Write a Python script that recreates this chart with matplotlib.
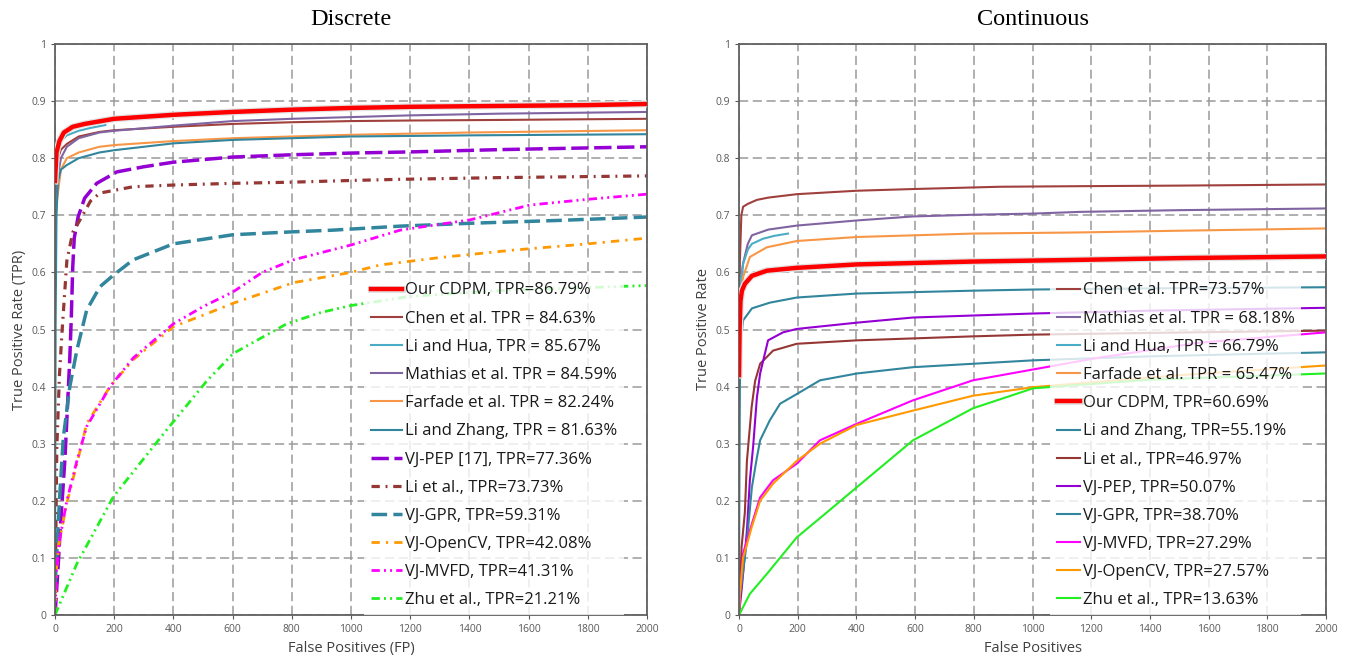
import matplotlib
matplotlib.use('Agg')
import matplotlib.pyplot as plt
import matplotlib.patheffects as pe

# ---- Discrete (left) ----
d_cdpm_x = [0, 5, 15, 30, 60, 100, 200, 400, 600, 800, 1000, 1200, 1400, 1600, 1800, 2000]
d_cdpm_y = [0.76, 0.81, 0.83, 0.845, 0.855, 0.86, 0.869, 0.876, 0.881, 0.885, 0.888, 0.89, 0.891, 0.892, 0.893, 0.895]
d_chen_x = [0, 10, 20, 40, 80, 150, 200, 400, 600, 800, 1000, 1200, 1500, 2000]
d_chen_y = [0.70, 0.80, 0.815, 0.825, 0.838, 0.846, 0.849, 0.855, 0.86, 0.863, 0.865, 0.866, 0.867, 0.869]
d_lihua_x = [0, 5, 10, 20, 40, 80, 120, 170]
d_lihua_y = [0.60, 0.79, 0.815, 0.83, 0.84, 0.848, 0.853, 0.858]
d_mathias_x = [0, 10, 20, 40, 80, 150, 200, 400, 600, 800, 1000, 1200, 1500, 2000]
d_mathias_y = [0.68, 0.77, 0.80, 0.82, 0.835, 0.845, 0.848, 0.857, 0.865, 0.869, 0.872, 0.875, 0.878, 0.881]
d_farfade_x = [0, 5, 10, 20, 40, 80, 150, 200, 400, 600, 800, 1000, 1400, 2000]
d_farfade_y = [0.65, 0.72, 0.74, 0.78, 0.80, 0.81, 0.82, 0.823, 0.83, 0.835, 0.838, 0.841, 0.845, 0.849]
d_lizhang_x = [0, 2, 5, 10, 20, 40, 80, 150, 200, 400, 600, 800, 1000, 1400, 2000]
d_lizhang_y = [0.07, 0.50, 0.70, 0.76, 0.78, 0.788, 0.80, 0.81, 0.814, 0.826, 0.832, 0.835, 0.838, 0.84, 0.842]
d_pep_x = [0, 10, 17, 34, 50, 55, 60, 65, 78, 100, 141, 209, 300, 400, 600, 800, 1000, 1200, 1500, 2000]
d_pep_y = [0.0, 0.08, 0.144, 0.277, 0.45, 0.52, 0.61, 0.66, 0.697, 0.73, 0.756, 0.776, 0.785, 0.793, 0.802, 0.806, 0.809, 0.811, 0.815, 0.82]
d_liet_x = [0, 3, 6, 15, 23, 40, 60, 90, 120, 152, 264, 400, 602, 800, 1000, 1166, 1500, 2000]
d_liet_y = [0.0, 0.15, 0.29, 0.42, 0.49, 0.62, 0.67, 0.697, 0.725, 0.739, 0.75, 0.753, 0.756, 0.758, 0.761, 0.763, 0.766, 0.769]
d_gpr_x = [0, 6, 15, 28, 50, 74, 107, 152, 197, 264, 400, 602, 800, 939, 1166, 1400, 1700, 2000]
d_gpr_y = [0.05, 0.11, 0.20, 0.31, 0.40, 0.464, 0.534, 0.575, 0.595, 0.622, 0.65, 0.666, 0.671, 0.674, 0.681, 0.686, 0.691, 0.697]
d_opencv_x = [0, 5, 15, 40, 74, 107, 186, 264, 400, 500, 602, 805, 1000, 1098, 1300, 1547, 1800, 2000]
d_opencv_y = [0.0, 0.08, 0.13, 0.196, 0.265, 0.335, 0.40, 0.447, 0.505, 0.525, 0.546, 0.582, 0.60, 0.613, 0.626, 0.639, 0.65, 0.66]
d_mvfd_x = [0, 5, 15, 40, 74, 107, 186, 264, 400, 500, 602, 700, 805, 1000, 1166, 1402, 1605, 1800, 2000]
d_mvfd_y = [0.0, 0.08, 0.13, 0.20, 0.27, 0.33, 0.40, 0.45, 0.51, 0.54, 0.566, 0.60, 0.622, 0.648, 0.674, 0.692, 0.718, 0.728, 0.737]
d_zhu_x = [0, 74, 197, 377, 513, 602, 783, 900, 1000, 1200, 1500, 2000]
d_zhu_y = [0.0, 0.09, 0.207, 0.324, 0.41, 0.458, 0.51, 0.53, 0.542, 0.558, 0.568, 0.577]

d_labels = ['Our CDPM, TPR=86.79%', 'Chen et al. TPR = 84.63%', 'Li and Hua, TPR = 85.67%',
            'Mathias et al. TPR = 84.59%', 'Farfade et al. TPR = 82.24%', 'Li and Zhang, TPR = 81.63%',
            'VJ-PEP [17], TPR=77.36%', 'Li et al., TPR=73.73%', 'VJ-GPR, TPR=59.31%',
            'VJ-OpenCV, TPR=42.08%', 'VJ-MVFD, TPR=41.31%', 'Zhu et al., TPR=21.21%']

# ---- Continuous (right) ----
c_chen_x = [0, 3, 8, 14, 30, 61, 100, 197, 400, 593, 889, 1162, 1500, 2000]
c_chen_y = [0.45, 0.62, 0.70, 0.715, 0.72, 0.727, 0.731, 0.737, 0.743, 0.746, 0.75, 0.751, 0.752, 0.754]
c_mathias_x = [0, 5, 14, 30, 44, 100, 197, 402, 593, 800, 1002, 1162, 1500, 2000]
c_mathias_y = [0.50, 0.58, 0.616, 0.65, 0.665, 0.675, 0.682, 0.691, 0.698, 0.701, 0.703, 0.706, 0.709, 0.712]
c_lihua_x = [0, 5, 14, 30, 44, 82, 120, 167]
c_lihua_y = [0.50, 0.58, 0.615, 0.64, 0.65, 0.659, 0.664, 0.668]
c_farfade_x = [0, 5, 14, 37, 95, 197, 402, 797, 1162, 1500, 2000]
c_farfade_y = [0.50, 0.56, 0.592, 0.627, 0.644, 0.655, 0.662, 0.668, 0.67, 0.673, 0.677]
c_cdpm_x = [0, 2, 5, 10, 20, 44, 95, 197, 402, 797, 1162, 1500, 2000]
c_cdpm_y = [0.42, 0.50, 0.55, 0.568, 0.58, 0.594, 0.603, 0.608, 0.614, 0.619, 0.622, 0.625, 0.628]
c_lizhang_x = [0, 1, 3, 6, 14, 44, 105, 197, 402, 797, 1002, 1400, 2000]
c_lizhang_y = [0.05, 0.20, 0.40, 0.48, 0.516, 0.537, 0.547, 0.556, 0.563, 0.568, 0.57, 0.572, 0.574]
c_liet_x = [0, 9, 20, 27, 43, 55, 72, 116, 197, 402, 797, 1002, 1400, 2000]
c_liet_y = [0.0, 0.12, 0.18, 0.27, 0.364, 0.41, 0.44, 0.463, 0.475, 0.481, 0.488, 0.491, 0.494, 0.498]
c_pep_x = [0, 10, 27, 37, 48, 61, 72, 99, 150, 197, 402, 593, 1002, 1400, 2000]
c_pep_y = [0.0, 0.05, 0.148, 0.236, 0.294, 0.381, 0.423, 0.481, 0.495, 0.501, 0.512, 0.521, 0.528, 0.533, 0.538]
c_gpr_x = [0, 3, 27, 44, 61, 72, 105, 140, 197, 276, 402, 593, 1002, 1400, 2000]
c_gpr_y = [0.0, 0.03, 0.13, 0.224, 0.276, 0.306, 0.341, 0.37, 0.387, 0.411, 0.423, 0.434, 0.446, 0.453, 0.46]
c_mvfd_x = [0, 3, 14, 44, 72, 116, 197, 276, 402, 593, 797, 1002, 1230, 1571, 2000]
c_mvfd_y = [0.0, 0.037, 0.108, 0.16, 0.206, 0.236, 0.265, 0.306, 0.335, 0.376, 0.411, 0.43, 0.451, 0.477, 0.495]
c_opencv_x = [0, 3, 14, 44, 72, 116, 197, 276, 402, 593, 797, 1002, 1500, 2000]
c_opencv_y = [0.0, 0.037, 0.10, 0.155, 0.20, 0.23, 0.27, 0.30, 0.333, 0.358, 0.384, 0.399, 0.42, 0.437]
c_zhu_x = [0, 37, 95, 197, 300, 402, 593, 797, 1002, 1400, 2000]
c_zhu_y = [0.0, 0.037, 0.072, 0.136, 0.18, 0.224, 0.306, 0.362, 0.397, 0.412, 0.423]

c_labels = ['Chen et al. TPR=73.57%', 'Mathias et al. TPR = 68.18%', 'Li and Hua, TPR = 66.79%',
            'Farfade et al. TPR = 65.47%', 'Our CDPM, TPR=60.69%', 'Li and Zhang, TPR=55.19%',
            'Li et al., TPR=46.97%', 'VJ-PEP, TPR=50.07%', 'VJ-GPR, TPR=38.70%',
            'VJ-MVFD, TPR=27.29%', 'VJ-OpenCV, TPR=27.57%', 'Zhu et al., TPR=13.63%']

x_ticks = list(range(0, 2001, 200))
y_ticks = [i / 10 for i in range(11)]
y_ticklabels = ['0', '0.1', '0.2', '0.3', '0.4', '0.5', '0.6', '0.7', '0.8', '0.9', '1']

RED = '#FF0000'
BROWN = '#A0403C'
LBLUE = '#4BACC6'
PURPLE = '#8064A2'
ORANGE = '#F79646'
TEAL = '#31859C'
VIOLET = '#9400D3'
DBROWN = '#953735'
BORANGE = '#FF9900'
MAGENTA = '#FF00FF'
GREEN = '#22EE22'

plt.rcParams['font.family'] = ['Open Sans', 'DejaVu Sans']

fig = plt.figure(figsize=(13.54, 6.65), dpi=100)
ax1 = fig.add_axes([55 / 1354, 50 / 665, 592 / 1354, 571 / 665])
ax2 = fig.add_axes([739 / 1354, 50 / 665, 587 / 1354, 571 / 665])

glow = [pe.Stroke(linewidth=5, foreground='#e2e2e2'), pe.Normal()]


def style_axes(ax, xlabel, ylabel, title):
    ax.set_xlim(0, 2000)
    ax.set_ylim(0, 1)
    ax.set_xticks(x_ticks)
    ax.set_yticks(y_ticks)
    ax.set_yticklabels(y_ticklabels)
    ax.tick_params(labelsize=7.5, colors='#595959', length=3, width=0.8)
    ax.grid(True, color='#9a9a9a', linestyle=(0, (6, 3)), linewidth=1.1)
    ax.set_axisbelow(True)
    for s in ax.spines.values():
        s.set_color('#606060')
        s.set_linewidth(1.3)
    ax.set_xlabel(xlabel, fontsize=10.5, color='#404040', labelpad=4)
    ax.set_ylabel(ylabel, fontsize=10.5, color='#404040', labelpad=3)
    ax.set_title(title, fontsize=17.5, family='Liberation Serif', pad=14)


def add_legend(ax, x0, hlen):
    leg = ax.legend(loc='lower left', bbox_to_anchor=(x0, 0), borderaxespad=0, fontsize=12,
                    frameon=True, framealpha=0.8, edgecolor='none', fancybox=False,
                    handlelength=hlen, handletextpad=0.15, labelspacing=0.73)
    for t in leg.get_texts():
        t.set_color('#1a1a1a')
    return leg


# left plot
ax1.plot(d_cdpm_x, d_cdpm_y, color=RED, lw=3.2, label=d_labels[0], zorder=5, path_effects=glow)
ax1.plot(d_chen_x, d_chen_y, color=BROWN, lw=1.5, label=d_labels[1])
ax1.plot(d_lihua_x, d_lihua_y, color=LBLUE, lw=1.5, label=d_labels[2])
ax1.plot(d_mathias_x, d_mathias_y, color=PURPLE, lw=1.5, label=d_labels[3])
ax1.plot(d_farfade_x, d_farfade_y, color=ORANGE, lw=1.5, label=d_labels[4])
ax1.plot(d_lizhang_x, d_lizhang_y, color=TEAL, lw=1.5, label=d_labels[5])
ax1.plot(d_pep_x, d_pep_y, color=VIOLET, lw=2.5, dashes=(5, 1.6), label=d_labels[6])
ax1.plot(d_liet_x, d_liet_y, color=DBROWN, lw=2.3, dashes=(2.6, 1.8, 0.6, 1.8), label=d_labels[7])
ax1.plot(d_gpr_x, d_gpr_y, color=TEAL, lw=2.5, dashes=(4.5, 1.8), label=d_labels[8])
ax1.plot(d_opencv_x, d_opencv_y, color=BORANGE, lw=2.0, dashes=(3, 2.2, 0.8, 2.2), label=d_labels[9])
ax1.plot(d_mvfd_x, d_mvfd_y, color=MAGENTA, lw=2.0, dashes=(3, 1.5, 0.7, 1.5, 0.7, 1.5), label=d_labels[10])
ax1.plot(d_zhu_x, d_zhu_y, color=GREEN, lw=2.0, dashes=(3, 1.5, 0.7, 1.5, 0.7, 1.5), label=d_labels[11])
style_axes(ax1, 'False Positives (FP)', 'True Positive Rate (TPR)', 'Discrete')
add_legend(ax1, 0.522, 1.9)

# right plot
ax2.plot(c_chen_x, c_chen_y, color=BROWN, lw=1.5, label=c_labels[0])
ax2.plot(c_mathias_x, c_mathias_y, color=PURPLE, lw=1.5, label=c_labels[1])
ax2.plot(c_lihua_x, c_lihua_y, color=LBLUE, lw=1.5, label=c_labels[2])
ax2.plot(c_farfade_x, c_farfade_y, color=ORANGE, lw=1.5, label=c_labels[3])
ax2.plot(c_cdpm_x, c_cdpm_y, color=RED, lw=3.2, label=c_labels[4], zorder=5, path_effects=glow)
ax2.plot(c_lizhang_x, c_lizhang_y, color=TEAL, lw=1.5, label=c_labels[5])
ax2.plot(c_liet_x, c_liet_y, color=DBROWN, lw=1.5, label=c_labels[6])
ax2.plot(c_pep_x, c_pep_y, color=VIOLET, lw=1.5, label=c_labels[7])
ax2.plot(c_gpr_x, c_gpr_y, color=TEAL, lw=1.5, label=c_labels[8])
ax2.plot(c_mvfd_x, c_mvfd_y, color=MAGENTA, lw=1.5, label=c_labels[9])
ax2.plot(c_opencv_x, c_opencv_y, color=BORANGE, lw=1.5, label=c_labels[10])
ax2.plot(c_zhu_x, c_zhu_y, color=GREEN, lw=1.5, label=c_labels[11])
style_axes(ax2, 'False Positives', 'True Positive Rate', 'Continuous')
add_legend(ax2, 0.530, 1.4)

fig.savefig('out.png', dpi=100)
